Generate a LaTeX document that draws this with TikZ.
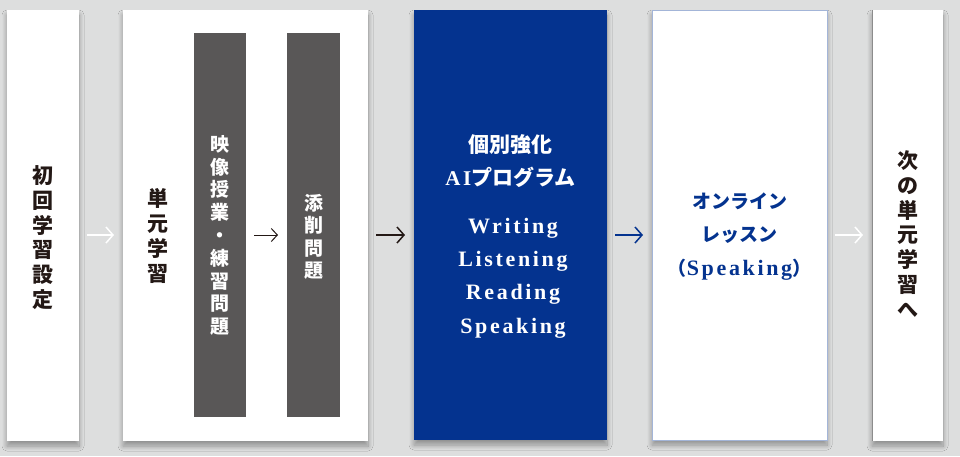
\documentclass[tikz,border=0pt]{standalone}
\usepackage{fontspec}
\newfontfamily\jpfont{Noto Sans CJK JP}
\newfontfamily\enfont[LetterSpace=12]{Liberation Serif}
\usetikzlibrary{shadows.blur}
\usetikzlibrary{arrows.meta}

\definecolor{bggray}{RGB}{221,222,222}
\definecolor{inkgray}{RGB}{35,24,21}
\definecolor{darkbox}{RGB}{89,87,87}
\definecolor{aiblue}{RGB}{4,51,143}
\definecolor{edgeblue}{RGB}{163,181,216}

\tikzset{
  stepbox/.style={rectangle, inner sep=0pt, outer sep=0pt, fill=white,
    blur shadow={shadow xshift=0pt, shadow yshift=-5pt, shadow blur radius=5pt, shadow blur steps=10, shadow opacity=35}},
  subbox/.style={rectangle, inner sep=0pt, outer sep=0pt, fill=darkbox},
  vtext/.style={align=center, font=\jpfont\bfseries\fontsize{21}{24.8}\selectfont, text=inkgray},
  flow/.style={-{Straight Barb[length=7pt,width=16pt]}, line width=1.5pt, shorten <=8pt, shorten >=9pt}
}

\begin{document}
\begin{tikzpicture}[x=1pt,y=-1pt]
\useasboundingbox (0,0) rectangle (960,456);
\fill[bggray] (0,0) rectangle (960,456);

% steps
\node (first) [stepbox, minimum width=72, minimum height=431] at (43,225.5) {};
\node (unit) [stepbox, minimum width=245, minimum height=431] at (245.5,225.5) {};
\node (video) [subbox, minimum width=52, minimum height=384] at (220,225) {};
\node (review) [subbox, minimum width=53, minimum height=384] at (313.5,225) {};
\node (ai) [stepbox, fill=aiblue, minimum width=193, minimum height=430] at (510.5,225) {};
\node (online) [stepbox, draw=edgeblue, line width=0.6pt, minimum width=175, minimum height=430] at (739.5,225) {};
\node (next) [stepbox, minimum width=71, minimum height=431] at (907.5,225.5) {};
\draw[black!45, line width=0.8pt] (next.north west) -- (next.south west);

% labels
\node (firsttext) [vtext] at (43,237.5) {初\\回\\学\\習\\設\\定};
\node (unittext) [vtext] at (158,236) {単\\元\\学\\習};
\node (videotext) [vtext, text=white, font=\jpfont\bfseries\fontsize{19}{22.8}\selectfont] at (220,235.5) {映\\像\\授\\業\\・\\練\\習\\問\\題};
\node (reviewtext) [vtext, text=white, font=\jpfont\bfseries\fontsize{19}{22.5}\selectfont] at (313.5,237) {添\\削\\問\\題};
\node (aitext) [align=center, text=white, font=\jpfont\bfseries\fontsize{21}{33}\selectfont] at (510.5,161.5) {個別強化\\{\enfont AI}プログラム};
\node (skilltext) [align=center, text=white, font=\enfont\bfseries\fontsize{22}{33.3}\selectfont] at (513,278) {Writing\\Listening\\Reading\\Speaking};
\node (onlinetext) [align=center, text=aiblue, font=\jpfont\bfseries\fontsize{19}{33.5}\selectfont] at (739.5,236.5) {オンライン\\レッスン\\（{\enfont\fontsize{22}{33.5}\selectfont Speaking}）};
\node (nexttext) [vtext] at (908,234) {次\\の\\単\\元\\学\\習\\へ};

% arrows
\draw[flow, white] ([yshift=-9.5pt]first.east) -- ([yshift=-9.5pt]first.east -| unit.west);
\draw[flow, inkgray, line width=1pt, -{Straight Barb[length=6pt,width=13pt]}] ([yshift=-10pt]video.east) -- ([yshift=-10pt]video.east -| review.west);
\draw[flow, inkgray] ([yshift=-9.5pt]unit.east) -- ([yshift=-9.5pt]unit.east -| ai.west);
\draw[flow, aiblue] ([yshift=-10pt]ai.east) -- ([yshift=-10pt]ai.east -| online.west);
\draw[flow, white] ([yshift=-10pt]online.east) -- ([yshift=-10pt]online.east -| next.west);
\end{tikzpicture}
\end{document}
